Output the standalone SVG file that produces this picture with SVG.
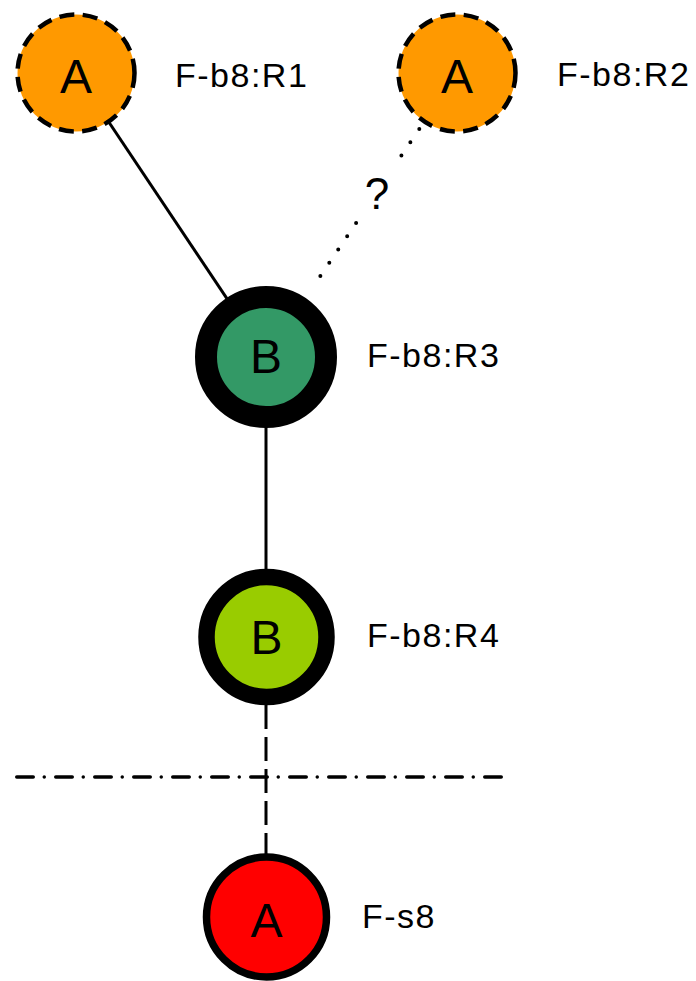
<svg xmlns="http://www.w3.org/2000/svg" width="696" height="981" viewBox="0 0 696 981">
<style>
.lbl{font-family:"Liberation Sans",Arial,sans-serif;font-size:34px;letter-spacing:1.5px;fill:#000}
.ltr{font-family:"Liberation Sans",Arial,sans-serif;font-size:48px;text-anchor:middle;fill:#000}
.solid{stroke:#000;stroke-width:3;fill:none}
.dot{stroke:#000;stroke-width:4;fill:none;stroke-linecap:round;stroke-dasharray:0 16}
.dash{stroke:#000;stroke-width:3;fill:none;stroke-dasharray:24 8}
.dashdot{stroke:#000;stroke-width:3.5;fill:none;stroke-linecap:round;stroke-dasharray:16.5 11 0 11.5}
.dc{stroke:#000;stroke-width:4.5;stroke-dasharray:15 8.5;fill:#FF9900}
</style>
<g id="connectors">
<line class="solid" x1="76" y1="73" x2="266" y2="357"/>
<line class="dot" x1="419.3" y1="129" x2="401.1" y2="156"/>
<line class="dot" x1="356.1" y1="222.9" x2="311.8" y2="288.7"/>
<line class="solid" x1="266" y1="420" x2="266" y2="575"/>
<line class="dash" x1="266" y1="705" x2="266" y2="857"/>
<line class="dashdot" x1="16.75" y1="777" x2="502" y2="777"/>
<text class="lbl" x="377" y="209" style="font-size:44px;letter-spacing:0;text-anchor:middle">?</text>
</g>
<g id="R1">
<circle class="dc" cx="76" cy="73" r="58.5"/>
<text class="ltr" x="76" y="93">A</text>
<text class="lbl" x="175" y="87">F-b8:R1</text>
</g>
<g id="R2">
<circle class="dc" cx="457" cy="73" r="58.5"/>
<text class="ltr" x="457" y="93">A</text>
<text class="lbl" x="557" y="86">F-b8:R2</text>
</g>
<g id="R3">
<circle cx="266" cy="357" r="60" fill="#339966" stroke="#000" stroke-width="22"/>
<text class="ltr" x="266" y="373">B</text>
<text class="lbl" x="367" y="367">F-b8:R3</text>
</g>
<g id="R4">
<circle cx="266.5" cy="637" r="60" fill="#99CC00" stroke="#000" stroke-width="16.5"/>
<text class="ltr" x="266.5" y="654">B</text>
<text class="lbl" x="367" y="647">F-b8:R4</text>
</g>
<g id="F-s8">
<circle cx="266.5" cy="917" r="60" fill="#FF0000" stroke="#000" stroke-width="7.5"/>
<text class="ltr" x="266.5" y="937">A</text>
<text class="lbl" x="362" y="928">F-s8</text>
</g>
</svg>
